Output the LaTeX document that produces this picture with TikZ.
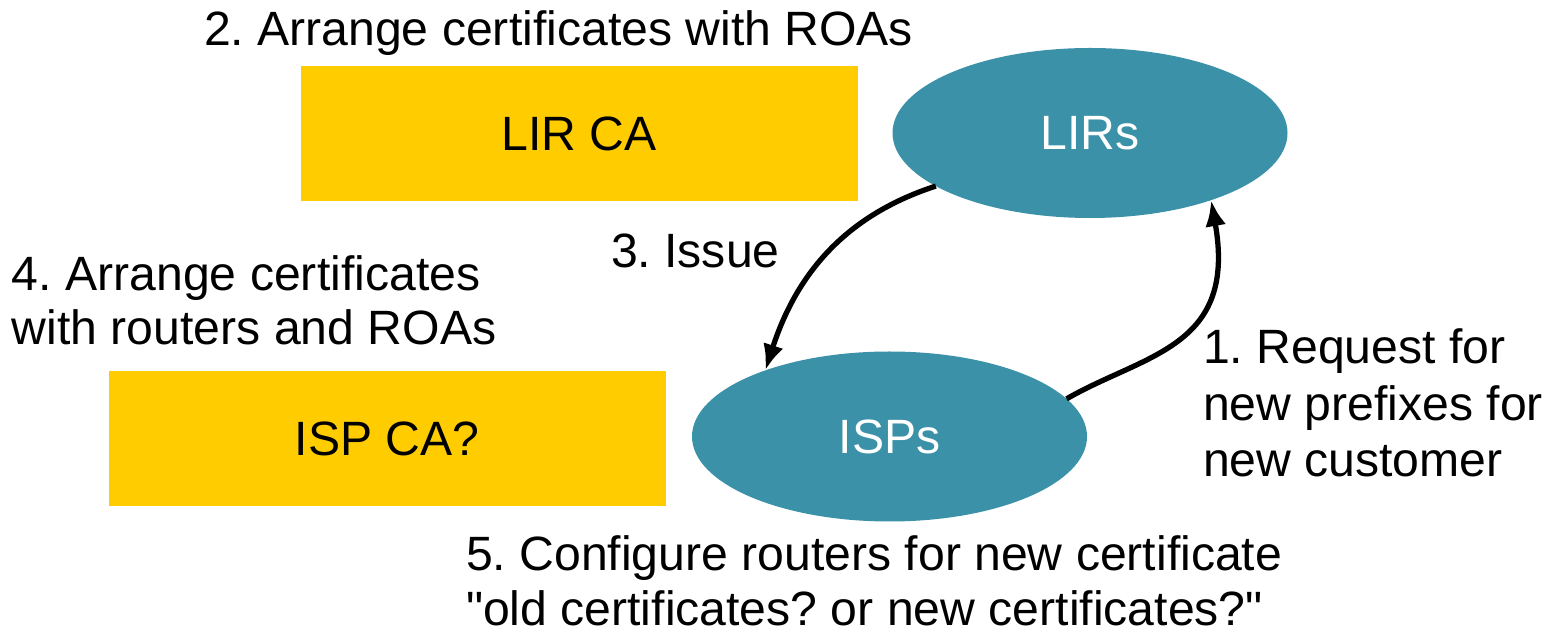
\documentclass[tikz,border=0pt]{standalone}
\usepackage{fontspec}
\setmainfont{Liberation Sans}
\usetikzlibrary{shapes.geometric,arrows.meta}
\definecolor{cagold}{HTML}{FFCC00}
\definecolor{regteal}{HTML}{3A91A8}
\frenchspacing
\begin{document}
\begin{tikzpicture}[
    txt/.style={font=\fontsize{13.7}{15.6}\selectfont, inner sep=0pt, outer sep=0pt},
    ca/.style={txt, rectangle, fill=cagold, minimum width=5.57cm, minimum height=1.35cm},
    reg/.style={txt, ellipse, fill=regteal, text=white, minimum width=3.95cm, minimum height=1.70cm},
    note/.style={txt, anchor=base west, align=left},
    >={Latex[length=2.6mm,width=2.1mm]}, line width=1.5pt]
  \useasboundingbox (0,0) rectangle (15.59,-6.33);
  % the two CAs
  \node [ca] (lirca) at (5.79,-1.335) {LIR CA};
  \node [ca] (ispca) at (3.87,-4.385) {ISP CA?};
  % registries
  \node [reg] (lirs) at (10.90,-1.33) {LIRs};
  \node [reg] (isps) at (8.895,-4.365) {ISPs};
  % steps (base = last line)
  \node [note] (s2) at (2.04,-0.46) {2. Arrange certificates with ROAs};
  \node [note] (s3) at (6.11,-2.68) {3. Issue};
  \node [note] (s4) at (0.12,-3.45) {4. Arrange certificates\\with routers and ROAs};
  \node [note, font=\fontsize{13.7}{16.1}\selectfont] (s1) at (12.03,-4.77)
    {1. Request for\\new prefixes for\\new customer};
  \node [note] (s5) at (4.66,-6.25) {5. Configure routers for new certificate\\\textquotedbl old certificates? or new certificates?\textquotedbl};
  \draw [->] (lirs.199) to [out=198,in=72] (isps.152);
  \draw [->] (isps.12) to [out=30,in=280,out distance=0.9cm,in distance=1.5cm] (lirs.-29);
\end{tikzpicture}
\end{document}
